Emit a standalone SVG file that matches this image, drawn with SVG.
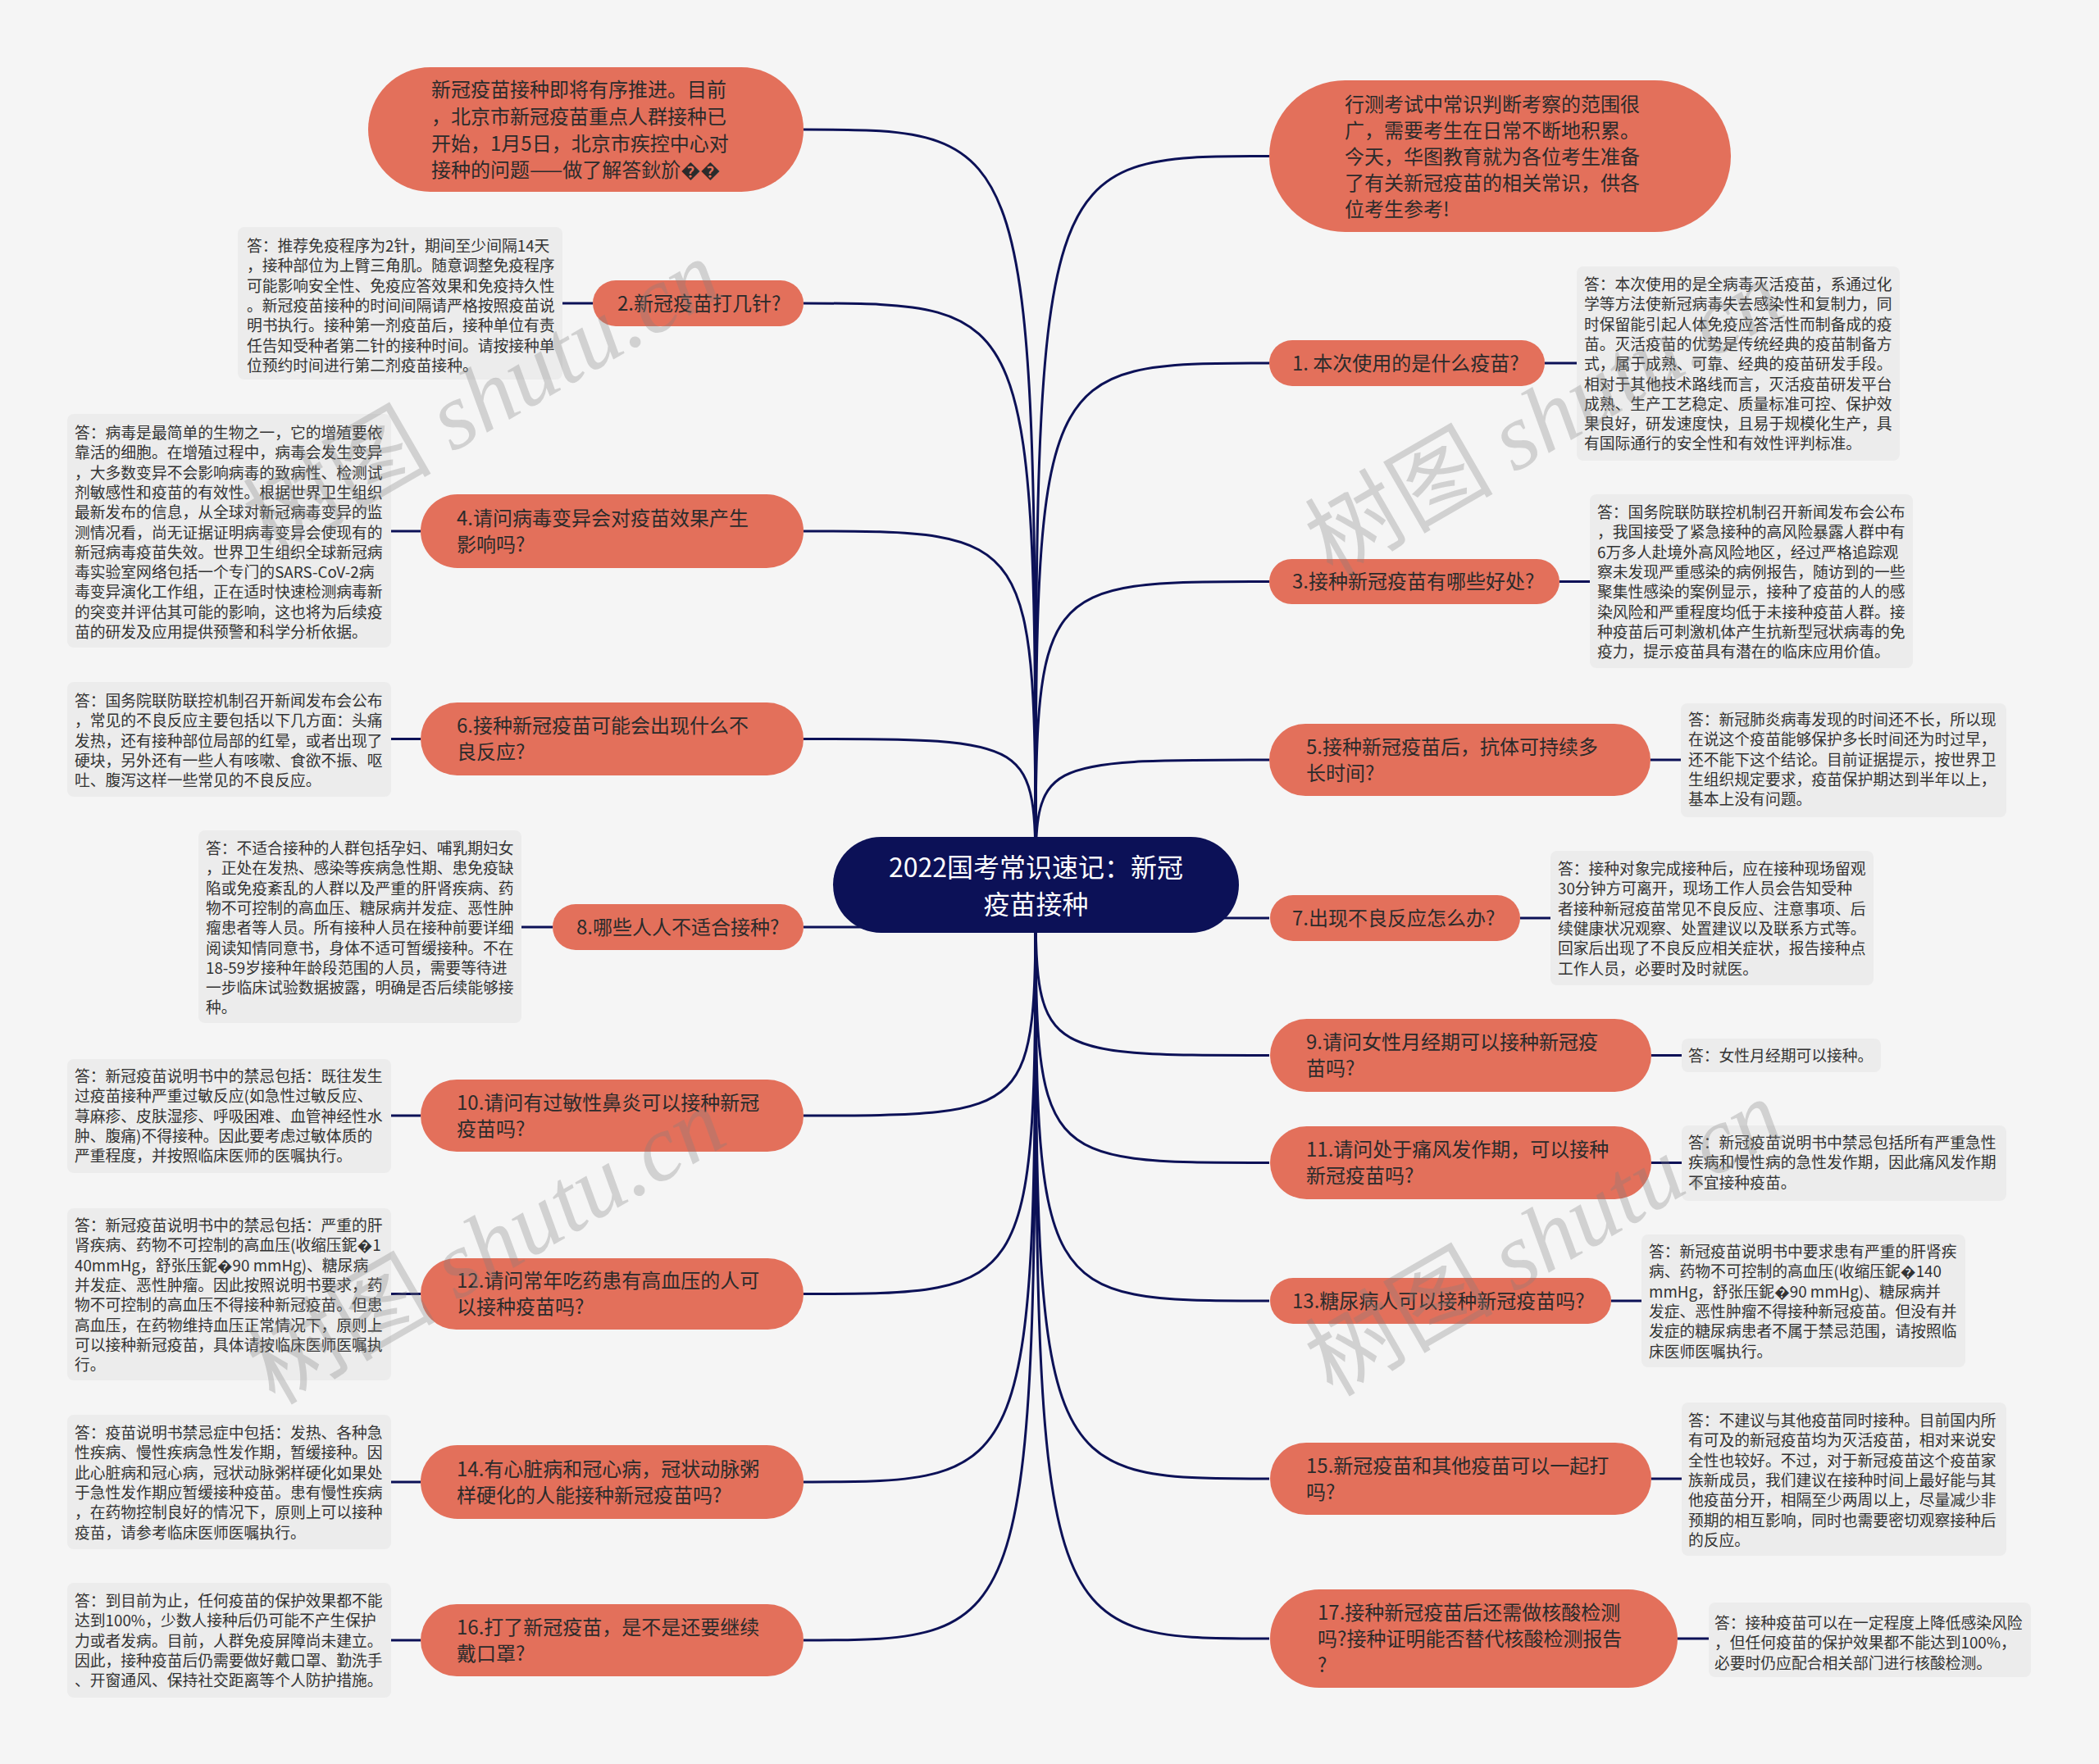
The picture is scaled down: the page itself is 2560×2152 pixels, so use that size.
<svg xmlns="http://www.w3.org/2000/svg" width="2560" height="2152" viewBox="0 0 2560 2152">
<style>
.bg{fill:#f5f5f5}
.node{fill:#e3705b}
.root{fill:#0c1157}
.note{fill:#ececec}
.edge{fill:none;stroke:#0c1157;stroke-width:3}
text{font-family:"Noto Sans CJK SC","Noto Sans",sans-serif}
.nt{font-size:24px;fill:#2b2b2b}
.rt{font-size:32px;fill:#ffffff}
.tt{font-size:18.8px;fill:#333333}
.wm{font-size:115px;fill:#808080;opacity:0.3}
.wm .lat{font-family:"Liberation Serif",serif;font-style:italic}
</style>
<rect class="bg" x="0" y="0" width="2560" height="2152"/>
<g id="connectors">
<path class="edge" d="M1263,1080 C1263,158 1263,158 980,158"/>
<path class="edge" d="M1263,1080 C1263,370 1263,370 980,370"/>
<path class="edge" d="M1263,1080 C1263,648 1263,648 980,648"/>
<path class="edge" d="M1263,1080 C1263,901.5 1263,901.5 980,901.5"/>
<path class="edge" d="M1263,1080 C1263,1131 1263,1131 980,1131"/>
<path class="edge" d="M1263,1080 C1263,1361 1263,1361 980,1361"/>
<path class="edge" d="M1263,1080 C1263,1578.5 1263,1578.5 980,1578.5"/>
<path class="edge" d="M1263,1080 C1263,1808 1263,1808 980,1808"/>
<path class="edge" d="M1263,1080 C1263,2001 1263,2001 980,2001"/>
<path class="edge" d="M1263,1080 C1263,190.5 1263,190.5 1548,190.5"/>
<path class="edge" d="M1263,1080 C1263,443 1263,443 1548,443"/>
<path class="edge" d="M1263,1080 C1263,709.5 1263,709.5 1548,709.5"/>
<path class="edge" d="M1263,1080 C1263,927 1263,927 1548,927"/>
<path class="edge" d="M1263,1080 C1263,1120 1263,1120 1548,1120"/>
<path class="edge" d="M1263,1080 C1263,1287.5 1263,1287.5 1548,1287.5"/>
<path class="edge" d="M1263,1080 C1263,1418.5 1263,1418.5 1548,1418.5"/>
<path class="edge" d="M1263,1080 C1263,1587 1263,1587 1548,1587"/>
<path class="edge" d="M1263,1080 C1263,1804 1263,1804 1548,1804"/>
<path class="edge" d="M1263,1080 C1263,1999 1263,1999 1548,1999"/>
<path class="edge" d="M723,370 H686"/>
<path class="edge" d="M513,648 H477"/>
<path class="edge" d="M513,901.5 H477"/>
<path class="edge" d="M674,1131 H636"/>
<path class="edge" d="M513,1361 H477"/>
<path class="edge" d="M513,1578.5 H477"/>
<path class="edge" d="M513,1808 H477"/>
<path class="edge" d="M513,2001 H477"/>
<path class="edge" d="M1884,443 H1923"/>
<path class="edge" d="M1902,709.5 H1939"/>
<path class="edge" d="M2013,927 H2050"/>
<path class="edge" d="M1854,1120 H1891"/>
<path class="edge" d="M2014,1287.5 H2051"/>
<path class="edge" d="M2014,1418.5 H2051"/>
<path class="edge" d="M1965,1587 H2002"/>
<path class="edge" d="M2014,1804 H2051"/>
<path class="edge" d="M2046,1999 H2084"/>
</g>
<g id="root">
<rect class="root" x="1016" y="1021" width="495" height="117" rx="58.5"/>
<text class="rt" x="1263.5" text-anchor="middle"><tspan x="1263.5" y="1070">2022国考常识速记：新冠</tspan><tspan x="1263.5" y="1115">疫苗接种</tspan></text>
</g>
<g id="n-t0">
<rect class="node" x="449" y="82" width="531" height="152" rx="76"/>
<text class="nt"><tspan x="526" y="118">新冠疫苗接种即将有序推进。目前</tspan><tspan x="526" y="151">，北京市新冠疫苗重点人群接种已</tspan><tspan x="526" y="183.5">开始，1月5日，北京市疾控中心对</tspan><tspan x="526" y="216">接种的问题——做了解答鈥斺��</tspan></text>
</g>
<g id="n-q2">
<rect class="node" x="723" y="342" width="257" height="56" rx="28"/>
<text class="nt" x="753" y="378.5">2.新冠疫苗打几针?</text>
<rect class="note" x="290" y="277" width="396" height="186" rx="8"/>
<text class="tt"><tspan x="301" y="307">答：推荐免疫程序为2针，期间至少间隔14天</tspan><tspan x="301" y="331.3">，接种部位为上臂三角肌。随意调整免疫程序</tspan><tspan x="301" y="355.6">可能影响安全性、免疫应答效果和免疫持久性</tspan><tspan x="301" y="379.9">。新冠疫苗接种的时间间隔请严格按照疫苗说</tspan><tspan x="301" y="404.2">明书执行。接种第一剂疫苗后，接种单位有责</tspan><tspan x="301" y="428.5">任告知受种者第二针的接种时间。请按接种单</tspan><tspan x="301" y="452.8">位预约时间进行第二剂疫苗接种。</tspan></text>
</g>
<g id="n-q4">
<rect class="node" x="513" y="603" width="467" height="90" rx="45"/>
<text class="nt"><tspan x="557" y="640.5">4.请问病毒变异会对疫苗效果产生</tspan><tspan x="557" y="672.5">影响吗?</tspan></text>
<rect class="note" x="82" y="505" width="395" height="285" rx="8"/>
<text class="tt"><tspan x="91" y="535">答：病毒是最简单的生物之一，它的增殖要依</tspan><tspan x="91" y="559.3">靠活的细胞。在增殖过程中，病毒会发生变异</tspan><tspan x="91" y="583.6">，大多数变异不会影响病毒的致病性、检测试</tspan><tspan x="91" y="607.9">剂敏感性和疫苗的有效性。根据世界卫生组织</tspan><tspan x="91" y="632.2">最新发布的信息，从全球对新冠病毒变异的监</tspan><tspan x="91" y="656.5">测情况看，尚无证据证明病毒变异会使现有的</tspan><tspan x="91" y="680.8">新冠病毒疫苗失效。世界卫生组织全球新冠病</tspan><tspan x="91" y="705.1">毒实验室网络包括一个专门的SARS-CoV-2病</tspan><tspan x="91" y="729.4">毒变异演化工作组，正在适时快速检测病毒新</tspan><tspan x="91" y="753.7">的突变并评估其可能的影响，这也将为后续疫</tspan><tspan x="91" y="778">苗的研发及应用提供预警和科学分析依据。</tspan></text>
</g>
<g id="n-q6">
<rect class="node" x="513" y="857" width="467" height="89" rx="44.5"/>
<text class="nt"><tspan x="557" y="894">6.接种新冠疫苗可能会出现什么不</tspan><tspan x="557" y="926">良反应?</tspan></text>
<rect class="note" x="82" y="832" width="395" height="140" rx="8"/>
<text class="tt"><tspan x="91" y="862">答：国务院联防联控机制召开新闻发布会公布</tspan><tspan x="91" y="886.3">，常见的不良反应主要包括以下几方面：头痛</tspan><tspan x="91" y="910.6">发热，还有接种部位局部的红晕，或者出现了</tspan><tspan x="91" y="934.9">硬块，另外还有一些人有咳嗽、食欲不振、呕</tspan><tspan x="91" y="959.2">吐、腹泻这样一些常见的不良反应。</tspan></text>
</g>
<g id="n-q8">
<rect class="node" x="674" y="1103" width="306" height="56" rx="28"/>
<text class="nt" x="703" y="1139.5">8.哪些人人不适合接种?</text>
<rect class="note" x="242" y="1013" width="394" height="235" rx="8"/>
<text class="tt"><tspan x="251" y="1042">答：不适合接种的人群包括孕妇、哺乳期妇女</tspan><tspan x="251" y="1066.3">，正处在发热、感染等疾病急性期、患免疫缺</tspan><tspan x="251" y="1090.6">陷或免疫紊乱的人群以及严重的肝肾疾病、药</tspan><tspan x="251" y="1114.9">物不可控制的高血压、糖尿病并发症、恶性肿</tspan><tspan x="251" y="1139.2">瘤患者等人员。所有接种人员在接种前要详细</tspan><tspan x="251" y="1163.5">阅读知情同意书，身体不适可暂缓接种。不在</tspan><tspan x="251" y="1187.8">18-59岁接种年龄段范围的人员，需要等待进</tspan><tspan x="251" y="1212.1">一步临床试验数据披露，明确是否后续能够接</tspan><tspan x="251" y="1236.4">种。</tspan></text>
</g>
<g id="n-q10">
<rect class="node" x="513" y="1317" width="467" height="88" rx="44"/>
<text class="nt"><tspan x="557" y="1353.5">10.请问有过敏性鼻炎可以接种新冠</tspan><tspan x="557" y="1385.5">疫苗吗?</tspan></text>
<rect class="note" x="82" y="1292" width="395" height="139" rx="8"/>
<text class="tt"><tspan x="91" y="1320">答：新冠疫苗说明书中的禁忌包括：既往发生</tspan><tspan x="91" y="1344.3">过疫苗接种严重过敏反应(如急性过敏反应、</tspan><tspan x="91" y="1368.6">荨麻疹、皮肤湿疹、呼吸困难、血管神经性水</tspan><tspan x="91" y="1392.9">肿、腹痛)不得接种。因此要考虑过敏体质的</tspan><tspan x="91" y="1417.2">严重程度，并按照临床医师的医嘱执行。</tspan></text>
</g>
<g id="n-q12">
<rect class="node" x="513" y="1535" width="467" height="87" rx="43.5"/>
<text class="nt"><tspan x="557" y="1571">12.请问常年吃药患有高血压的人可</tspan><tspan x="557" y="1603">以接种疫苗吗?</tspan></text>
<rect class="note" x="82" y="1474" width="395" height="210" rx="8"/>
<text class="tt"><tspan x="91" y="1502">答：新冠疫苗说明书中的禁忌包括：严重的肝</tspan><tspan x="91" y="1526.3">肾疾病、药物不可控制的高血压(收缩压鈮�1</tspan><tspan x="91" y="1550.6">40mmHg，舒张压鈮�90 mmHg)、糖尿病</tspan><tspan x="91" y="1574.9">并发症、恶性肿瘤。因此按照说明书要求，药</tspan><tspan x="91" y="1599.2">物不可控制的高血压不得接种新冠疫苗。但患</tspan><tspan x="91" y="1623.5">高血压，在药物维持血压正常情况下，原则上</tspan><tspan x="91" y="1647.8">可以接种新冠疫苗，具体请按临床医师医嘱执</tspan><tspan x="91" y="1672.1">行。</tspan></text>
</g>
<g id="n-q14">
<rect class="node" x="513" y="1763" width="467" height="90" rx="45"/>
<text class="nt"><tspan x="557" y="1800.5">14.有心脏病和冠心病，冠状动脉粥</tspan><tspan x="557" y="1832.5">样硬化的人能接种新冠疫苗吗?</tspan></text>
<rect class="note" x="82" y="1726" width="395" height="164" rx="8"/>
<text class="tt"><tspan x="91" y="1755">答：疫苗说明书禁忌症中包括：发热、各种急</tspan><tspan x="91" y="1779.3">性疾病、慢性疾病急性发作期，暂缓接种。因</tspan><tspan x="91" y="1803.6">此心脏病和冠心病，冠状动脉粥样硬化如果处</tspan><tspan x="91" y="1827.9">于急性发作期应暂缓接种疫苗。患有慢性疾病</tspan><tspan x="91" y="1852.2">，在药物控制良好的情况下，原则上可以接种</tspan><tspan x="91" y="1876.5">疫苗，请参考临床医师医嘱执行。</tspan></text>
</g>
<g id="n-q16">
<rect class="node" x="513" y="1957" width="467" height="88" rx="44"/>
<text class="nt"><tspan x="557" y="1993.5">16.打了新冠疫苗，是不是还要继续</tspan><tspan x="557" y="2025.5">戴口罩?</tspan></text>
<rect class="note" x="82" y="1931" width="395" height="140" rx="8"/>
<text class="tt"><tspan x="91" y="1960">答：到目前为止，任何疫苗的保护效果都不能</tspan><tspan x="91" y="1984.3">达到100%，少数人接种后仍可能不产生保护</tspan><tspan x="91" y="2008.6">力或者发病。目前，人群免疫屏障尚未建立。</tspan><tspan x="91" y="2032.9">因此，接种疫苗后仍需要做好戴口罩、勤洗手</tspan><tspan x="91" y="2057.2">、开窗通风、保持社交距离等个人防护措施。</tspan></text>
</g>
<g id="n-intro">
<rect class="node" x="1548" y="98" width="563" height="185" rx="92.5"/>
<text class="nt"><tspan x="1640" y="135.5">行测考试中常识判断考察的范围很</tspan><tspan x="1640" y="168">广，需要考生在日常不断地积累。</tspan><tspan x="1640" y="200">今天，华图教育就为各位考生准备</tspan><tspan x="1640" y="232">了有关新冠疫苗的相关常识，供各</tspan><tspan x="1640" y="264">位考生参考!</tspan></text>
</g>
<g id="n-q1">
<rect class="node" x="1548" y="415" width="336" height="56" rx="28"/>
<text class="nt" x="1576" y="451.5">1. 本次使用的是什么疫苗?</text>
<rect class="note" x="1923" y="325" width="394" height="237" rx="8"/>
<text class="tt"><tspan x="1932" y="354">答：本次使用的是全病毒灭活疫苗，系通过化</tspan><tspan x="1932" y="378.3">学等方法使新冠病毒失去感染性和复制力，同</tspan><tspan x="1932" y="402.6">时保留能引起人体免疫应答活性而制备成的疫</tspan><tspan x="1932" y="426.9">苗。灭活疫苗的优势是传统经典的疫苗制备方</tspan><tspan x="1932" y="451.2">式，属于成熟、可靠、经典的疫苗研发手段。</tspan><tspan x="1932" y="475.5">相对于其他技术路线而言，灭活疫苗研发平台</tspan><tspan x="1932" y="499.8">成熟、生产工艺稳定、质量标准可控、保护效</tspan><tspan x="1932" y="524.1">果良好，研发速度快，且易于规模化生产，具</tspan><tspan x="1932" y="548.4">有国际通行的安全性和有效性评判标准。</tspan></text>
</g>
<g id="n-q3">
<rect class="node" x="1548" y="682" width="354" height="55" rx="27.5"/>
<text class="nt" x="1576" y="718">3.接种新冠疫苗有哪些好处?</text>
<rect class="note" x="1939" y="603" width="394" height="212" rx="8"/>
<text class="tt"><tspan x="1948" y="632">答：国务院联防联控机制召开新闻发布会公布</tspan><tspan x="1948" y="656.3">，我国接受了紧急接种的高风险暴露人群中有</tspan><tspan x="1948" y="680.6">6万多人赴境外高风险地区，经过严格追踪观</tspan><tspan x="1948" y="704.9">察未发现严重感染的病例报告，随访到的一些</tspan><tspan x="1948" y="729.2">聚集性感染的案例显示，接种了疫苗的人的感</tspan><tspan x="1948" y="753.5">染风险和严重程度均低于未接种疫苗人群。接</tspan><tspan x="1948" y="777.8">种疫苗后可刺激机体产生抗新型冠状病毒的免</tspan><tspan x="1948" y="802.1">疫力，提示疫苗具有潜在的临床应用价值。</tspan></text>
</g>
<g id="n-q5">
<rect class="node" x="1548" y="883" width="465" height="88" rx="44"/>
<text class="nt"><tspan x="1593" y="919.5">5.接种新冠疫苗后，抗体可持续多</tspan><tspan x="1593" y="951.5">长时间?</tspan></text>
<rect class="note" x="2050" y="858" width="397" height="139" rx="8"/>
<text class="tt"><tspan x="2059" y="885">答：新冠肺炎病毒发现的时间还不长，所以现</tspan><tspan x="2059" y="909.3">在说这个疫苗能够保护多长时间还为时过早，</tspan><tspan x="2059" y="933.6">还不能下这个结论。目前证据提示，按世界卫</tspan><tspan x="2059" y="957.9">生组织规定要求，疫苗保护期达到半年以上，</tspan><tspan x="2059" y="982.2">基本上没有问题。</tspan></text>
</g>
<g id="n-q7">
<rect class="node" x="1549" y="1092" width="305" height="56" rx="28"/>
<text class="nt" x="1576" y="1128.5">7.出现不良反应怎么办?</text>
<rect class="note" x="1891" y="1038" width="394" height="164" rx="8"/>
<text class="tt"><tspan x="1900" y="1067">答：接种对象完成接种后，应在接种现场留观</tspan><tspan x="1900" y="1091.3">30分钟方可离开，现场工作人员会告知受种</tspan><tspan x="1900" y="1115.6">者接种新冠疫苗常见不良反应、注意事项、后</tspan><tspan x="1900" y="1139.9">续健康状况观察、处置建议以及联系方式等。</tspan><tspan x="1900" y="1164.2">回家后出现了不良反应相关症状，报告接种点</tspan><tspan x="1900" y="1188.5">工作人员，必要时及时就医。</tspan></text>
</g>
<g id="n-q9">
<rect class="node" x="1549" y="1243" width="465" height="89" rx="44.5"/>
<text class="nt"><tspan x="1593" y="1280">9.请问女性月经期可以接种新冠疫</tspan><tspan x="1593" y="1312">苗吗?</tspan></text>
<rect class="note" x="2051" y="1267" width="243" height="41" rx="8"/>
<text class="tt" x="2059" y="1295">答：女性月经期可以接种。</text>
</g>
<g id="n-q11">
<rect class="node" x="1549" y="1374" width="465" height="89" rx="44.5"/>
<text class="nt"><tspan x="1593" y="1411">11.请问处于痛风发作期，可以接种</tspan><tspan x="1593" y="1443">新冠疫苗吗?</tspan></text>
<rect class="note" x="2051" y="1373" width="396" height="92" rx="8"/>
<text class="tt"><tspan x="2059" y="1401">答：新冠疫苗说明书中禁忌包括所有严重急性</tspan><tspan x="2059" y="1425.3">疾病和慢性病的急性发作期，因此痛风发作期</tspan><tspan x="2059" y="1449.6">不宜接种疫苗。</tspan></text>
</g>
<g id="n-q13">
<rect class="node" x="1549" y="1559" width="416" height="56" rx="28"/>
<text class="nt" x="1576" y="1595.5">13.糖尿病人可以接种新冠疫苗吗?</text>
<rect class="note" x="2002" y="1506" width="395" height="162" rx="8"/>
<text class="tt"><tspan x="2011" y="1534">答：新冠疫苗说明书中要求患有严重的肝肾疾</tspan><tspan x="2011" y="1558.3">病、药物不可控制的高血压(收缩压鈮�140</tspan><tspan x="2011" y="1582.6">mmHg，舒张压鈮�90 mmHg)、糖尿病并</tspan><tspan x="2011" y="1606.9">发症、恶性肿瘤不得接种新冠疫苗。但没有并</tspan><tspan x="2011" y="1631.2">发症的糖尿病患者不属于禁忌范围，请按照临</tspan><tspan x="2011" y="1655.5">床医师医嘱执行。</tspan></text>
</g>
<g id="n-q15">
<rect class="node" x="1549" y="1760" width="465" height="88" rx="44"/>
<text class="nt"><tspan x="1593" y="1796.5">15.新冠疫苗和其他疫苗可以一起打</tspan><tspan x="1593" y="1828.5">吗?</tspan></text>
<rect class="note" x="2051" y="1711" width="396" height="187" rx="8"/>
<text class="tt"><tspan x="2059" y="1740">答：不建议与其他疫苗同时接种。目前国内所</tspan><tspan x="2059" y="1764.3">有可及的新冠疫苗均为灭活疫苗，相对来说安</tspan><tspan x="2059" y="1788.6">全性也较好。不过，对于新冠疫苗这个疫苗家</tspan><tspan x="2059" y="1812.9">族新成员，我们建议在接种时间上最好能与其</tspan><tspan x="2059" y="1837.2">他疫苗分开，相隔至少两周以上，尽量减少非</tspan><tspan x="2059" y="1861.5">预期的相互影响，同时也需要密切观察接种后</tspan><tspan x="2059" y="1885.8">的反应。</tspan></text>
</g>
<g id="n-q17">
<rect class="node" x="1549" y="1939" width="497" height="120" rx="60"/>
<text class="nt"><tspan x="1607" y="1975.5">17.接种新冠疫苗后还需做核酸检测</tspan><tspan x="1607" y="2007.5">吗?接种证明能否替代核酸检测报告</tspan><tspan x="1607" y="2039.5">?</tspan></text>
<rect class="note" x="2084" y="1955" width="393" height="91" rx="8"/>
<text class="tt"><tspan x="2091" y="1987">答：接种疫苗可以在一定程度上降低感染风险</tspan><tspan x="2091" y="2011.3">，但任何疫苗的保护效果都不能达到100%，</tspan><tspan x="2091" y="2035.6">必要时仍应配合相关部门进行核酸检测。</tspan></text>
</g>
<g id="watermarks">
<text class="wm" transform="translate(330,680) rotate(-30)">树图 <tspan class="lat">shutu.cn</tspan></text>
<text class="wm" transform="translate(1625,705) rotate(-30)">树图 <tspan class="lat">shutu.cn</tspan></text>
<text class="wm" transform="translate(335,1715) rotate(-30)">树图 <tspan class="lat">shutu.cn</tspan></text>
<text class="wm" transform="translate(1625,1705) rotate(-30)">树图 <tspan class="lat">shutu.cn</tspan></text>
</g>
</svg>
